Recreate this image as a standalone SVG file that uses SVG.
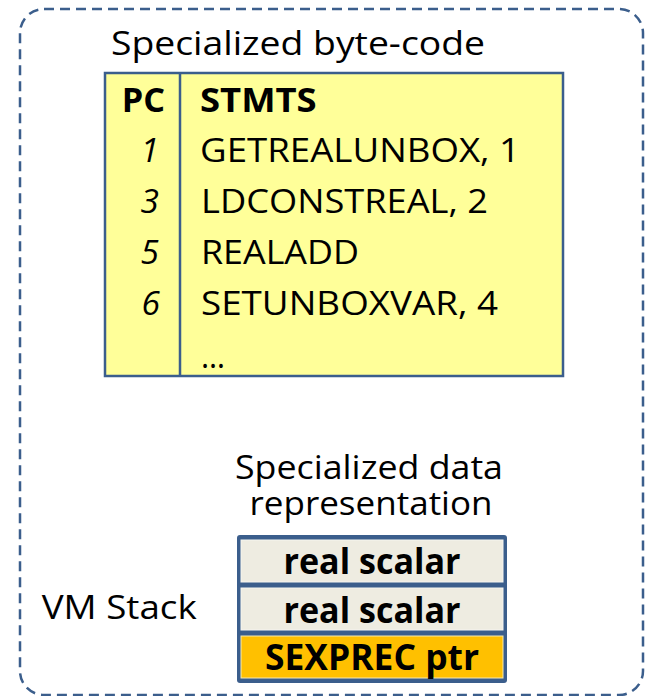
<svg xmlns="http://www.w3.org/2000/svg" width="648" height="696" viewBox="0 0 648 696">
  <style>
    .t { font-family: "Open Sans", "Noto Sans", "Liberation Sans", sans-serif; font-size: 33.5px; fill: #000; }
    .b { font-weight: bold; }
    .i { font-style: italic; }
    .cell { font-family: "Open Sans", "Noto Sans", "Liberation Sans", sans-serif; font-size: 35px; font-weight: bold; fill: #000; text-anchor: middle; }
    .frame { fill: none; stroke: #3B5E8C; stroke-width: 2.5; stroke-dasharray: 10 6; }
    .line { stroke: #3B5E8C; stroke-width: 2.5; }
  </style>

  <g id="container">
    <rect class="frame" x="20" y="9" width="623" height="686" rx="24" ry="24"/>
  </g>

  <g id="bytecode-title">
    <text class="t" x="111" y="55" textLength="374" lengthAdjust="spacingAndGlyphs">Specialized byte-code</text>
  </g>

  <g id="bytecode-table">
    <rect x="105" y="73" width="458" height="303" fill="#FFFF99" stroke="#3B5E8C" stroke-width="2.5"/>
    <line class="line" x1="180" y1="73" x2="180" y2="376"/>
    <text class="t b" x="121.7" y="111.7" textLength="43.3" lengthAdjust="spacingAndGlyphs">PC</text>
    <text class="t b" x="200" y="111.7" textLength="116.7" lengthAdjust="spacingAndGlyphs">STMTS</text>
    <text class="t i" x="159" y="162" text-anchor="end">1</text>
    <text class="t i" x="159" y="213" text-anchor="end">3</text>
    <text class="t i" x="159" y="264" text-anchor="end">5</text>
    <text class="t i" x="160" y="315" text-anchor="end">6</text>
    <text class="t" x="200" y="162" textLength="320" lengthAdjust="spacingAndGlyphs">GETREALUNBOX, 1</text>
    <text class="t" x="201" y="213" textLength="287" lengthAdjust="spacingAndGlyphs">LDCONSTREAL, 2</text>
    <text class="t" x="201" y="264" textLength="158" lengthAdjust="spacingAndGlyphs">REALADD</text>
    <text class="t" x="201" y="315" textLength="297" lengthAdjust="spacingAndGlyphs">SETUNBOXVAR, 4</text>
    <text class="t" x="201" y="368" textLength="24" lengthAdjust="spacingAndGlyphs">…</text>
  </g>

  <g id="data-title">
    <text class="t" x="369" y="479" text-anchor="middle" textLength="268" lengthAdjust="spacingAndGlyphs">Specialized data</text>
    <text class="t" x="371" y="515" text-anchor="middle" textLength="243" lengthAdjust="spacingAndGlyphs">representation</text>
  </g>

  <g id="vm-stack-label">
    <text class="t" x="41.7" y="619" textLength="155" lengthAdjust="spacingAndGlyphs">VM Stack</text>
  </g>

  <g id="vm-stack">
    <rect x="237" y="535" width="270" height="148" rx="3" ry="3" fill="#3B5E8C"/>
    <rect x="241" y="540" width="262" height="42" fill="#EEECE1" stroke="#F6F5F0" stroke-width="1"/>
    <rect x="241" y="588" width="262" height="42" fill="#EEECE1" stroke="#F6F5F0" stroke-width="1"/>
    <rect x="241" y="636" width="262" height="42" fill="#FFC000" stroke="#F6E9B0" stroke-width="1"/>
    <text class="cell" x="372" y="574.3" textLength="177" lengthAdjust="spacingAndGlyphs">real scalar</text>
    <text class="cell" x="372" y="622.7" textLength="177" lengthAdjust="spacingAndGlyphs">real scalar</text>
    <text class="cell" x="372" y="670" textLength="214" lengthAdjust="spacingAndGlyphs">SEXPREC ptr</text>
  </g>
</svg>
